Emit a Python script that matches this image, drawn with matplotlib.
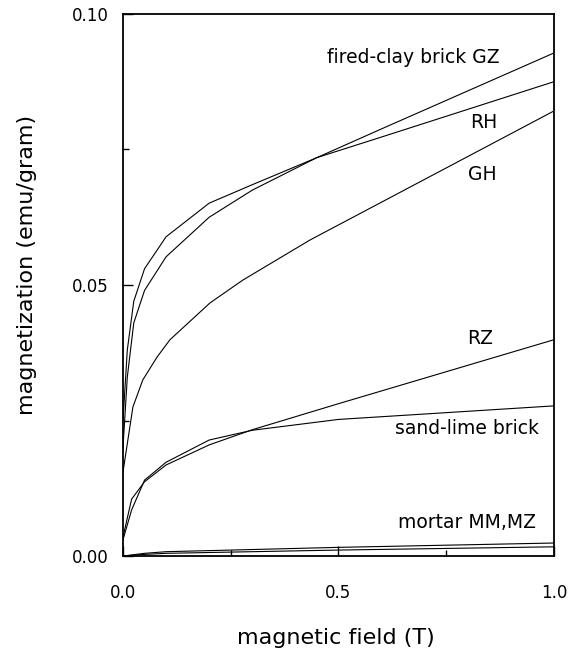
import matplotlib
matplotlib.use("Agg")
import matplotlib.pyplot as plt
from matplotlib.ticker import MultipleLocator, FormatStrFormatter

plt.rcParams["font.family"] = ["DejaVu Sans"]

# magnetisation curves (field in T, magnetization in emu/gram)
gz_field = [0.0, 0.01, 0.025, 0.05, 0.1, 0.2, 0.3, 0.45, 0.6, 0.8, 1.0]
gz_mag = [0.020, 0.033, 0.043, 0.049, 0.0552, 0.0625, 0.0675, 0.0735, 0.0788, 0.0858, 0.0928]

rh_field = [0.0, 0.01, 0.025, 0.05, 0.1, 0.2, 0.3, 0.45, 0.6, 0.8, 1.0]
rh_mag = [0.025, 0.038, 0.047, 0.053, 0.0589, 0.0651, 0.0685, 0.0735, 0.0773, 0.0824, 0.0875]

gh_field = [0.0, 0.023, 0.046, 0.079, 0.109, 0.202, 0.278, 0.434, 1.0]
gh_mag = [0.0155, 0.0275, 0.0325, 0.0367, 0.0399, 0.0467, 0.0509, 0.0583, 0.0821]

rz_field = [0.0, 0.02, 0.05, 0.1, 0.2, 0.3, 0.5, 1.0]
rz_mag = [0.0035, 0.0105, 0.0137, 0.0168, 0.0205, 0.0233, 0.0281, 0.0399]

sl_field = [0.0, 0.02, 0.05, 0.1, 0.2, 0.3, 0.5, 1.0]
sl_mag = [0.003, 0.0085, 0.014, 0.0173, 0.0214, 0.0232, 0.0252, 0.0277]

mm_field = [0.0, 0.05, 0.1, 0.5, 1.0]
mm_mag = [0.0, 0.0005, 0.0008, 0.0016, 0.0024]

mz_field = [0.0, 0.05, 0.1, 0.5, 1.0]
mz_mag = [0.0, 0.0003, 0.0005, 0.0011, 0.0017]

curve_labels = ["fired-clay brick GZ", "RH", "GH", "RZ", "sand-lime brick", "mortar MM,MZ"]
label_x = [0.875, 0.868, 0.868, 0.860, 0.965, 0.958]
label_y = [0.0919, 0.0799, 0.0703, 0.0402, 0.0236, 0.0061]

fig = plt.figure(figsize=(5.71, 6.53), dpi=100)
ax = fig.add_axes([0.2154, 0.1485, 0.7546, 0.8301])

for xs, ys in [(gz_field, gz_mag), (rh_field, rh_mag), (gh_field, gh_mag),
               (rz_field, rz_mag), (sl_field, sl_mag),
               (mm_field, mm_mag), (mz_field, mz_mag)]:
    ax.plot(xs, ys, color="black", lw=0.8)

for txt, x, y in zip(curve_labels, label_x, label_y):
    ax.text(x, y, txt, ha="right", va="center", fontsize=13.5)

ax.set_xlim(0, 1.0)
ax.set_ylim(0, 0.10)
ax.xaxis.set_major_locator(MultipleLocator(0.5))
ax.xaxis.set_minor_locator(MultipleLocator(0.25))
ax.yaxis.set_major_locator(MultipleLocator(0.05))
ax.yaxis.set_minor_locator(MultipleLocator(0.025))
ax.xaxis.set_major_formatter(FormatStrFormatter("%.1f"))
ax.yaxis.set_major_formatter(FormatStrFormatter("%.2f"))
ax.tick_params(which="both", direction="in", top=False, right=False)
ax.tick_params(which="major", length=7, width=1)
ax.tick_params(which="minor", length=4, width=1)
ax.tick_params(axis="x", which="major", pad=20, labelsize=12)
ax.tick_params(axis="y", which="major", pad=10, labelsize=12)

for s in ax.spines.values():
    s.set_linewidth(1.3)

# axis titles placed in figure coords
fig.text(0.589, 0.023, "magnetic field (T)", ha="center", va="center", fontsize=16)
fig.text(0.047, 0.594, "magnetization (emu/gram)", ha="center", va="center",
         rotation=90, fontsize=16)

fig.savefig("out.png", dpi=100)
